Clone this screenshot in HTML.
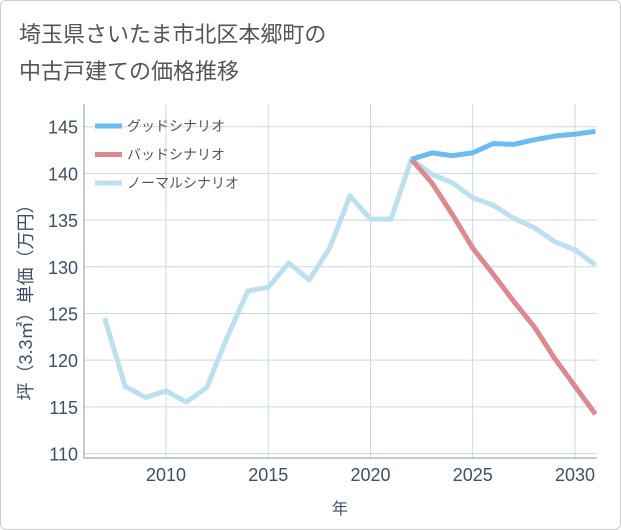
<!DOCTYPE html>
<html><head><meta charset="utf-8"><style>
body{margin:0;background:#fff;font-family:"Liberation Sans","Noto Sans CJK JP",sans-serif;}
#wrap{position:relative;width:619px;height:528px;border:1px solid #ccc;border-radius:6px;overflow:hidden;}
#title{position:absolute;left:18px;top:15px;font-size:22px;line-height:37px;color:#555;}
</style></head><body>
<div id="wrap">
<div id="title">埼玉県さいたま市北区本郷町の<br>中古戸建ての価格推移</div>
<svg id="chart" width="621" height="530" style="position:absolute;left:-1px;top:-1px"></svg>
</div>
<script>
const years=[2007,2008,2009,2010,2011,2012,2013,2014,2015,2016,2017,2018,2019,2020,2021,2022,2023,2024,2025,2026,2027,2028,2029,2030,2031];
const normalVals=[124.5,117.2,116,116.7,115.5,117.1,122.5,127.4,127.8,130.4,128.6,132,137.6,135.1,135.1,141.5,139.9,139,137.4,136.6,135.2,134.2,132.7,131.8,130.2];
const futureYears=[2022,2023,2024,2025,2026,2027,2028,2029,2030,2031];
const goodVals=[141.5,142.2,141.9,142.2,143.2,143.1,143.6,144,144.2,144.5];
const badVals=[141.5,139,135.6,132,129.2,126.3,123.6,120.2,117.2,114.2];
const yTicks=[110,115,120,125,130,135,140,145];
const xTicks=[2010,2015,2020,2025,2030];
const legendLabels=["グッドシナリオ","バッドシナリオ","ノーマルシナリオ"];
const colors=["#6bbcf3","#de8890","#bde0ee"];
const L=84,R=597,T=104,B=458;
const xs=y=>166+(y-2010)*20.45;
const ys=v=>126.7+(145-v)*(453.5-126.7)/35;
const svg=document.getElementById('chart');const NS="http://www.w3.org/2000/svg";
function el(t,a,p){const e=document.createElementNS(NS,t);for(const k in a)e.setAttribute(k,a[k]);(p||svg).appendChild(e);return e;}
yTicks.forEach(v=>{const l=el('line',{x1:L,x2:R,y1:ys(v),y2:ys(v),stroke:'#c9d9e6','stroke-width':1});

const t=el('text',{x:L-6,y:ys(v)+7,'text-anchor':'end','font-size':18,fill:'#3d5068'});t.textContent=v;
});
xTicks.forEach(v=>{const l=el('line',{x1:xs(v),x2:xs(v),y1:T,y2:B,stroke:'#c9d9e6','stroke-width':1});

const t=el('text',{x:xs(v),y:481,'text-anchor':'middle','font-size':18,fill:'#3d5068'});t.textContent=v;
});
const ax=el('path',{d:`M${L} ${T}V${B}H${R}`,fill:'none',stroke:'#8a97a6','stroke-width':1});

const xt=el('text',{x:340,y:514,'text-anchor':'middle','font-size':16,fill:'#3d5068'});xt.textContent='年';

const yt=el('text',{x:0,y:0,'text-anchor':'middle','font-size':18,fill:'#3d5068',transform:'translate(32,298) rotate(-90)'});yt.textContent='坪（3.3㎡）単価（万円）';

function line(xsArr,vals,c,name){const p=el('polyline',{points:xsArr.map((y,i)=>xs(y)+','+ys(vals[i])).join(' '),fill:'none',stroke:c,'stroke-width':5,'stroke-linejoin':'round'});
}
line(years,normalVals,colors[2],'normal-scenario-line');
line(futureYears,badVals,colors[1],'bad-scenario-line');
line(futureYears,goodVals,colors[0],'good-scenario-line');
legendLabels.forEach((s,i)=>{const y=126+i*28.5;
const r=el('line',{x1:95,x2:122,y1:y,y2:y,stroke:colors[i],'stroke-width':5});

const t=el('text',{x:127,y:y+5,'font-size':14,fill:'#555'});t.textContent=s;
});
</script>
</body></html>
